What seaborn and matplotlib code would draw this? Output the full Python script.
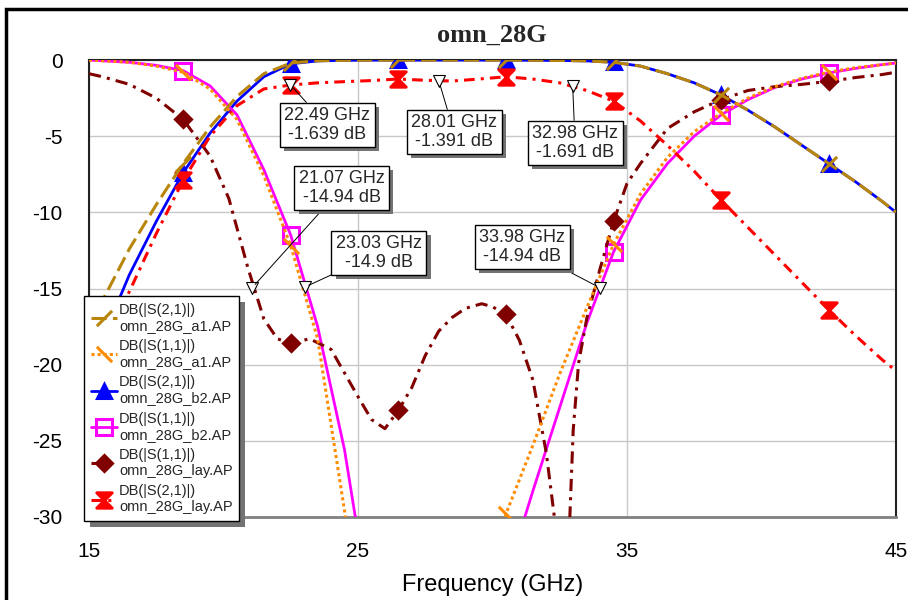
import matplotlib
matplotlib.use("Agg")
import matplotlib.pyplot as plt
import matplotlib.patheffects as pe
from matplotlib.path import Path
from matplotlib.patches import Rectangle
import seaborn as sns

# frequency grid (GHz) shared by the a1 / b2 / S21_lay traces
FREQ = [15, 15.5, 16.5, 17.5, 18.5, 19.5, 20.5, 21.5, 22.5, 23.5, 24.5, 25.5,
        26.5, 27.5, 28.5, 29.5, 30.5, 31.5, 32.5, 33.5, 34.5, 35.5, 36.5, 37.5,
        38.5, 39.5, 40.5, 41.5, 42.5, 43.5, 44.5, 45]

S21_A1 = [-17.6, -15.8, -12.4, -9.5, -6.8, -4.4, -2.4, -0.9, -0.2, -0.05, -0.02, -0.01,
          -0.01, -0.01, -0.01, -0.01, -0.01, -0.02, -0.03, -0.06, -0.15, -0.4, -0.9, -1.5,
          -2.3, -3.3, -4.4, -5.6, -6.8, -8.0, -9.3, -10.0]
S11_A1 = [0.0, -0.05, -0.15, -0.4, -0.8, -1.9, -3.9, -7.6, -12.2, -18.3, -29.6, -42.0,
          -45.0, -45.0, -45.0, -40.0, -29.8, -25.3, -20.6, -16.3, -12.1, -8.8, -6.4, -4.7,
          -3.5, -2.5, -1.75, -1.2, -0.8, -0.5, -0.3, -0.2]
S21_B2 = [-20.5, -18.3, -14.1, -10.6, -7.4, -4.8, -2.7, -1.1, -0.25, -0.06, -0.02, -0.01,
          -0.01, -0.01, -0.01, -0.01, -0.01, -0.02, -0.03, -0.06, -0.15, -0.4, -0.9, -1.5,
          -2.3, -3.3, -4.4, -5.6, -6.8, -8.0, -9.3, -10.0]
S11_B2 = [0.0, -0.05, -0.15, -0.35, -0.7, -1.7, -3.6, -7.2, -11.5, -17.5, -25.6, -36.6,
          -45.0, -45.0, -45.0, -45.0, -34.0, -28.3, -22.8, -17.3, -12.6, -9.2, -6.8, -5.0,
          -3.6, -2.6, -1.8, -1.25, -0.85, -0.55, -0.3, -0.2]
S21_LAY = [-21.0, -19.0, -15.2, -11.4, -7.9, -5.0, -3.0, -1.9, -1.64, -1.5, -1.42, -1.35,
           -1.25, -1.33, -1.38, -1.25, -1.1, -1.25, -1.5, -2.0, -2.7, -4.0, -5.6, -7.3,
           -9.2, -11.0, -12.8, -14.6, -16.4, -18.1, -19.7, -20.4]

# S11 of the layout has more structure, so it gets its own grid
FREQ_LAY = [15, 15.5, 16.5, 17.5, 18.5, 19.5, 20.2, 20.9, 21.5, 22.0, 22.5, 23.2, 24.0,
            25.0, 25.5, 26.0, 26.5, 27.0, 27.5, 28.0, 28.5, 29.0, 29.6, 30.0, 30.5, 31.0,
            31.5, 32.0, 32.3, 32.5, 32.7, 33.0, 33.2, 33.5, 34.0, 34.5, 35.0, 35.5, 36.5,
            37.5, 38.5, 39.5, 40.5, 41.5, 42.5, 43.5, 44.5, 45]
S11_LAY = [-0.9, -1.1, -1.6, -2.5, -3.9, -6.3, -9.1, -13.6, -17.0, -18.3, -18.6, -18.3, -19.0,
           -22.1, -23.6, -24.2, -23.0, -21.5, -19.4, -17.8, -16.9, -16.3, -16.0, -16.2, -16.7,
           -18.4, -21.0, -25.8, -30.0, -38.0, -38.0, -24.3, -19.9, -17.0, -13.7, -10.6, -8.1,
           -6.8, -4.5, -3.4, -2.6, -2.0, -1.75, -1.6, -1.4, -1.15, -0.95, -0.8]

# frequencies where the trace symbols sit
SYMBOL_FREQ = [18.5, 22.5, 26.5, 30.5, 34.5, 38.5, 42.5]

# readout markers
MARK_F = [22.49, 28.01, 32.98, 21.07, 23.03, 33.98]
MARK_DB = [-1.639, -1.391, -1.691, -14.94, -14.9, -14.94]
# where the readout boxes are centred (GHz, dB)
MARK_BOX = [(23.85, -4.27), (28.57, -4.73), (33.07, -5.45),
            (24.4, -8.4), (25.78, -12.67), (31.1, -12.28)]

SLASH = Path([(-1, -1), (1, 1)], [Path.MOVETO, Path.LINETO])
BACKSLASH = Path([(-1, 1), (1, -1)], [Path.MOVETO, Path.LINETO])
HOURGLASS = Path([(-1, 1), (1, 1), (-1, -1), (1, -1), (-1, 1)],
                 [Path.MOVETO, Path.LINETO, Path.LINETO, Path.LINETO, Path.CLOSEPOLY])


def symbol_idx(freq):
    return [i for i, f in enumerate(freq) if any(abs(f - s) < 1e-6 for s in SYMBOL_FREQ)]


sns.set_theme(style="white")
plt.rcParams['font.family'] = ['Liberation Sans', 'DejaVu Sans']
plt.rcParams['axes.unicode_minus'] = False

fig = plt.figure(figsize=(9.08, 6.0), dpi=100)
ax = fig.add_axes([89 / 908, 1 - 517 / 600, 807 / 908, 457 / 600])

# outer frame of the graph window
fig.patches.append(Rectangle((6 / 908, -0.05), 1.2, 1 - 9 / 600 + 0.05, transform=fig.transFigure,
                             fill=False, edgecolor='black', lw=2.5))

# (label, freq, values, colour, linestyle, lw, marker, ms, mfc, zorder)
traces = [
    ("DB(|S(2,1)|)\nomn_28G_b2.AP", FREQ, S21_B2, "#0000FF", "-", 2.0, "^", 10, "#0000FF", 3),
    ("DB(|S(1,1)|)\nomn_28G_b2.AP", FREQ, S11_B2, "#FF00FF", "-", 2.0, "s", 11, "none", 3),
    ("DB(|S(1,1)|)\nomn_28G_lay.AP", FREQ_LAY, S11_LAY, "#800000", (0, (4, 2, 1, 2)), 2.2, "D", 8, "#800000", 3),
    ("DB(|S(2,1)|)\nomn_28G_lay.AP", FREQ, S21_LAY, "#FF0000", (0, (3.5, 2, 1, 2)), 2.2, HOURGLASS, 11, "#FF0000", 3),
    ("DB(|S(2,1)|)\nomn_28G_a1.AP", FREQ, S21_A1, "#B8860B", (0, (5, 2)), 2.2, SLASH, 11, "none", 4),
    ("DB(|S(1,1)|)\nomn_28G_a1.AP", FREQ, S11_A1, "#FF8C00", (0, (1, 1)), 2.2, BACKSLASH, 11, "none", 4),
]

handles = {}
for label, fr, db, col, ls, lw, mk, ms, mfc, z in traces:
    sns.lineplot(x=fr, y=db, ax=ax, color=col, linestyle=ls, linewidth=lw,
                 marker=mk, markevery=symbol_idx(fr), markersize=ms,
                 markerfacecolor=mfc, markeredgecolor=col, markeredgewidth=2.2,
                 estimator=None, sort=False, legend=False, zorder=z)
    line = ax.get_lines()[-1]
    line.set_dash_capstyle('butt')
    handles[label] = line

# readout markers with their boxes
ax.plot(MARK_F, MARK_DB, linestyle='none', marker='v', ms=9, mfc='white',
        mec='black', mew=0.8, zorder=6)
for f, db, (bx, by) in zip(MARK_F, MARK_DB, MARK_BOX):
    t = ax.annotate(f"{f:.2f} GHz\n{db:g} dB", xy=(f, db), xytext=(bx, by),
                    ha='center', va='center', fontsize=13, linespacing=1.1,
                    bbox=dict(boxstyle='square,pad=0.25', fc='white', ec='black', lw=1),
                    arrowprops=dict(arrowstyle='-', color='black', lw=0.7, shrinkA=0, shrinkB=3),
                    zorder=7)
    t.get_bbox_patch().set_path_effects(
        [pe.withSimplePatchShadow(offset=(3, -3), shadow_rgbFace='0.45', alpha=1.0)])

ax.set_xlim(15, 45)
ax.set_ylim(-30, 0)
ax.set_xticks([15, 25, 35, 45])
ax.set_yticks([0, -5, -10, -15, -20, -25, -30])
ax.set_yticklabels(["0", "-5", "-10", "-15", "-20", "-25", "-30"])
ax.tick_params(axis='x', length=0, pad=18, labelsize=15, colors='black')
ax.tick_params(axis='y', length=0, pad=19, labelsize=15, colors='black')
ax.grid(True, color='#C8C8C8', lw=1)
ax.set_axisbelow(True)
ax.set_xlabel("Frequency (GHz)", fontsize=17, labelpad=9, color='black')
ax.set_ylabel("")
for side in ['left', 'top', 'right']:
    ax.spines[side].set_color('#222222')
    ax.spines[side].set_linewidth(1.5)
ax.spines['bottom'].set_color('#808080')
ax.spines['bottom'].set_linewidth(2)

fig.text(492 / 908, 1 - 35 / 600, "omn_28G", ha='center', va='center',
         family='Liberation Serif', weight='bold', fontsize=19)

order = ["DB(|S(2,1)|)\nomn_28G_a1.AP", "DB(|S(1,1)|)\nomn_28G_a1.AP",
         "DB(|S(2,1)|)\nomn_28G_b2.AP", "DB(|S(1,1)|)\nomn_28G_b2.AP",
         "DB(|S(1,1)|)\nomn_28G_lay.AP", "DB(|S(2,1)|)\nomn_28G_lay.AP"]
leg = ax.legend([handles[k] for k in order], order, loc='upper left',
                bbox_to_anchor=(84 / 908, 1 - 296 / 600), bbox_transform=fig.transFigure,
                borderaxespad=0, fontsize=10.5, handlelength=1.8, handletextpad=0.15,
                labelspacing=0.42, borderpad=0.45, fancybox=False, framealpha=1,
                edgecolor='black')
leg.get_frame().set_linewidth(1)
leg.get_frame().set_path_effects(
    [pe.withSimplePatchShadow(offset=(4, -4), shadow_rgbFace='0.45', alpha=1.0)])
leg.set_zorder(8)

fig.savefig("out.png", dpi=100)
